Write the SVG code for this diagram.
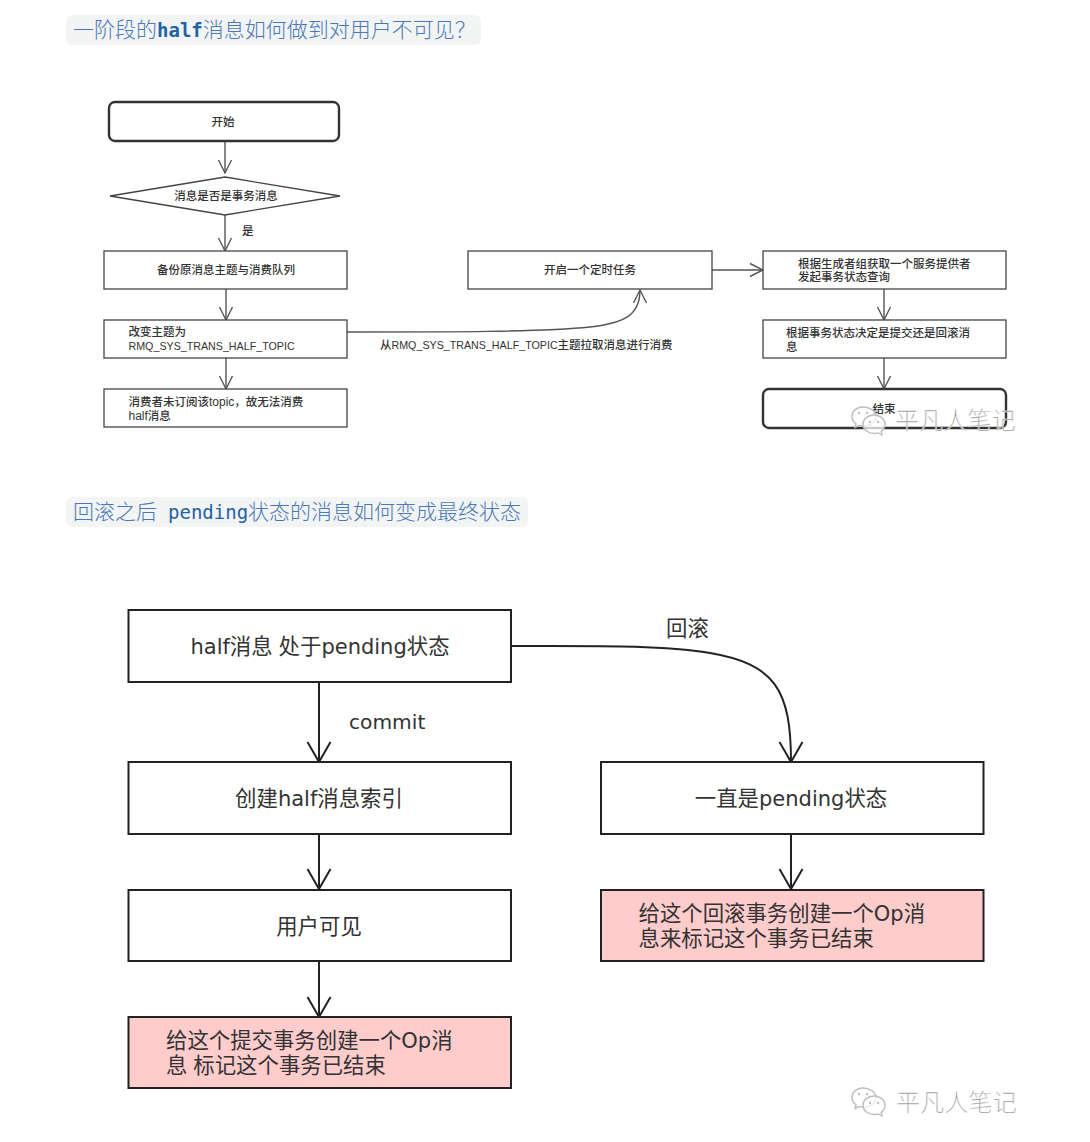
<svg xmlns="http://www.w3.org/2000/svg" width="1090" height="1142" viewBox="0 0 1090 1142">
  <style>
    text { font-family: "Liberation Sans", "Noto Sans CJK SC", sans-serif; fill: #333; }
    .box { fill: #fff; stroke: #444; stroke-width: 1.3; }
    .term { fill: #fff; stroke: #333; stroke-width: 2.4; }
    .big { fill: #fff; stroke: #222; stroke-width: 2; }
    .pink { fill: #ffcccc; stroke: #222; stroke-width: 2; }
    .s { font-size: 11.5px; font-weight: 500; }
    .m { text-anchor: middle; }
    .l { font-size: 21.4px; font-weight: 400; }
    .lat { font-family: "DejaVu Sans", sans-serif; font-size: 21px; font-weight: 400; }
    .tiny { font-size: 10.7px; }
    .tp { font-size: 12px; }
    .head { font-family: "Noto Sans CJK SC", sans-serif; font-size: 21px; font-weight: 300; fill: #4a78b8; }
    .code { font-family: "DejaVu Sans Mono", monospace; font-size: 19px; fill: #1f62a8; }
    .chip { fill: #f3f4f4; }
    .wire { fill: none; stroke: #555; stroke-width: 1.4; }
    .wire2 { fill: none; stroke: #222; stroke-width: 2; }
    .mark { font-family: "Noto Sans CJK SC", sans-serif; font-size: 24px; font-weight: 300; fill: #8d8d8d; stroke: #fff; stroke-width: 0.4; letter-spacing: 0.2px; }
    .bubble { fill: #fff; fill-opacity: 0.75; stroke: #bdbdbd; stroke-width: 1.4; }
  </style>
  <defs>
    <marker id="open" markerUnits="userSpaceOnUse" markerWidth="18" markerHeight="18" refX="15" refY="9" orient="auto">
      <path d="M2 2.5 L15 9 L2 15.5" fill="none" stroke="#555" stroke-width="1.4"/>
    </marker>
    <marker id="openBig" markerUnits="userSpaceOnUse" markerWidth="28" markerHeight="28" refX="23" refY="14" orient="auto">
      <path d="M3 2.5 L23 14 L3 25.5" fill="none" stroke="#222" stroke-width="2"/>
    </marker>
    <g id="wechat">
      <path class="bubble" d="M11 0 C4.5 0 0 4.2 0 9.5 C0 12.6 1.6 15 4 16.7 L3 20.5 L7.5 18.3 C9 18.8 10.5 19 12 19 C20 19 24 14.5 24 9.5 C24 4.2 18 0 11 0 Z"/>
      <path class="bubble" d="M22 8 C15.6 8 11 12.3 11 17.3 C11 22.3 15.6 26.5 22 26.5 C23.4 26.5 24.7 26.3 26 25.9 L30 28 L29.2 24.4 C31.6 22.6 33 20.1 33 17.3 C33 12.3 28.4 8 22 8 Z"/>
      <circle cx="7" cy="6" r="1.2" fill="#bdbdbd"/>
      <circle cx="15" cy="6" r="1.2" fill="#bdbdbd"/>
      <circle cx="18" cy="15" r="1.2" fill="#bdbdbd"/>
      <circle cx="26" cy="15" r="1.2" fill="#bdbdbd"/>
    </g>
  </defs>

  <rect width="1090" height="1142" fill="#fff"/>

  <g id="heading-half">
    <rect class="chip" x="66" y="15" width="415" height="30" rx="6"/>
    <text class="head" x="73" y="37">一阶段的<tspan class="code" font-weight="700">half</tspan>消息如何做到对用户不可见？</text>
  </g>
  <g id="heading-pending">
    <rect class="chip" x="66" y="497" width="462" height="30" rx="6"/>
    <text class="head" x="73" y="519">回滚之后<tspan class="code" x="168">pending</tspan>状态的消息如何变成最终状态</text>
  </g>

  <g id="connectors">
    <path class="wire" marker-end="url(#open)" d="M225 141 V173"/>
    <path class="wire" marker-end="url(#open)" d="M225 215 V251"/>
    <path class="wire" marker-end="url(#open)" d="M226 289 V320"/>
    <path class="wire" marker-end="url(#open)" d="M226 358 V389"/>
    <path class="wire" marker-end="url(#open)" d="M347 332 C450 332 540 332 590 327 C625 323 640 315 640 290"/>
    <path class="wire" marker-end="url(#open)" d="M712 270 H763"/>
    <path class="wire" marker-end="url(#open)" d="M884 289 V320"/>
    <path class="wire" marker-end="url(#open)" d="M884 358 V389"/>
    <path class="wire2" marker-end="url(#openBig)" d="M319 682 V762"/>
    <path class="wire2" marker-end="url(#openBig)" d="M319 834 V889"/>
    <path class="wire2" marker-end="url(#openBig)" d="M319 961 V1017"/>
    <path class="wire2" marker-end="url(#openBig)" d="M511 646 C600 646 660 645 710 653 C775 664 791 690 791 762"/>
    <path class="wire2" marker-end="url(#openBig)" d="M791 834 V889"/>
  </g>

  <g id="start">
    <rect class="term" x="109" y="102" width="230" height="39" rx="6"/>
    <text class="s m" x="223" y="126">开始</text>
  </g>
  <g id="is-transaction">
    <path class="box" d="M110 196 L225 177 L340 196 L225 215 Z"/>
    <text class="s m" x="226" y="200">消息是否是事务消息</text>
  </g>
  <text class="s" id="label-yes" x="242" y="235">是</text>
  <g id="backup">
    <rect class="box" x="104" y="251" width="243" height="38"/>
    <text class="s m" x="226" y="274">备份原消息主题与消费队列</text>
  </g>
  <g id="change-topic">
    <rect class="box" x="104" y="320" width="243" height="38"/>
    <text class="s" x="128.500" y="336">改变主题为</text>
    <text class="s tiny" x="128.500" y="350">RMQ_SYS_TRANS_HALF_TOPIC</text>
  </g>
  <g id="no-subscribe">
    <rect class="box" x="104" y="389" width="243" height="38"/>
    <text class="s" x="128.500" y="406">消费者未订阅该<tspan class="tp">topic</tspan>，故无法消费</text>
    <text class="s" x="128.500" y="420"><tspan class="tp">half</tspan>消息</text>
  </g>
  <text class="s" id="label-pull" x="380" y="349">从<tspan class="tiny">RMQ_SYS_TRANS_HALF_TOPIC</tspan>主题拉取消息进行消费</text>
  <g id="timer">
    <rect class="box" x="468" y="251" width="244" height="38"/>
    <text class="s m" x="590" y="274">开启一个定时任务</text>
  </g>
  <g id="query">
    <rect class="box" x="763" y="251" width="243" height="38"/>
    <text class="s" x="798" y="268">根据生成者组获取一个服务提供者</text>
    <text class="s" x="798" y="281">发起事务状态查询</text>
  </g>
  <g id="decide">
    <rect class="box" x="763" y="320" width="243" height="38"/>
    <text class="s" x="786" y="337">根据事务状态决定是提交还是回滚消</text>
    <text class="s" x="786" y="351">息</text>
  </g>
  <g id="end">
    <rect class="term" x="763" y="389" width="243" height="39" rx="6"/>
    <text class="s m" x="884" y="413">结束</text>
  </g>

  <g id="half-pending">
    <rect class="big" x="128.500" y="610" width="382.500" height="72"/>
    <text class="l m" x="320" y="654"><tspan class="lat">half</tspan>消息 处于<tspan class="lat">pending</tspan>状态</text>
  </g>
  <text class="l lat" id="label-commit" style="font-size:20.200px" x="349" y="729">commit</text>
  <text class="l" id="label-rollback" x="666" y="636">回滚</text>
  <g id="create-index">
    <rect class="big" x="128.500" y="762" width="382.500" height="72"/>
    <text class="l m" x="319" y="806">创建<tspan class="lat">half</tspan>消息索引</text>
  </g>
  <g id="visible">
    <rect class="big" x="128.500" y="890" width="382.500" height="71"/>
    <text class="l m" x="319" y="934">用户可见</text>
  </g>
  <g id="commit-op">
    <rect class="pink" x="128.500" y="1017" width="382.500" height="71"/>
    <text class="l" x="166" y="1048">给这个提交事务创建一个<tspan class="lat">Op</tspan>消</text>
    <text class="l" x="166" y="1073">息 标记这个事务已结束</text>
  </g>
  <g id="stay-pending">
    <rect class="big" x="601" y="762" width="382.500" height="72"/>
    <text class="l m" x="791" y="806">一直是<tspan class="lat">pending</tspan>状态</text>
  </g>
  <g id="rollback-op">
    <rect class="pink" x="601" y="890" width="382.500" height="71"/>
    <text class="l" x="638.500" y="921">给这个回滚事务创建一个<tspan class="lat">Op</tspan>消</text>
    <text class="l" x="638.500" y="946">息来标记这个事务已结束</text>
  </g>

  <g id="badge-top">
    <use href="#wechat" x="852" y="407"/>
    <text class="mark" x="895" y="429">平凡人笔记</text>
  </g>
  <g id="badge-bottom">
    <use href="#wechat" x="852" y="1088"/>
    <text class="mark" x="896" y="1111">平凡人笔记</text>
  </g>
</svg>
